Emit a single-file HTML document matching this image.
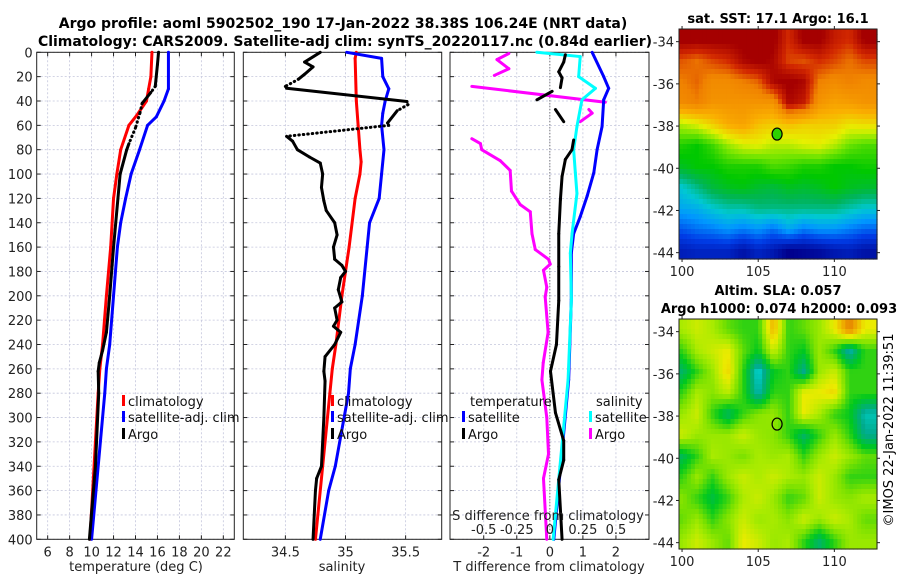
<!DOCTYPE html>
<html><head><meta charset="utf-8"><style>
html,body{margin:0;padding:0;background:#fff;}
svg{display:block;font-family:"DejaVu Sans","Liberation Sans",sans-serif;}
</style></head><body>
<svg id="fig" width="900" height="580" viewBox="0 0 900 580" xmlns="http://www.w3.org/2000/svg">
<rect x="0" y="0" width="900" height="580" fill="#fff"/>
<text x="343" y="28" text-anchor="middle" font-size="14" font-weight="bold">Argo profile: aoml 5902502_190 17-Jan-2022 38.38S 106.24E (NRT data)</text>
<text x="345" y="46" text-anchor="middle" font-size="14" font-weight="bold">Climatology: CARS2009. Satellite-adj clim: synTS_20220117.nc (0.84d earlier)</text>
<text x="778" y="23" text-anchor="middle" font-size="13" font-weight="bold">sat. SST: 17.1 Argo: 16.1</text>
<text x="778" y="295" text-anchor="middle" font-size="13" font-weight="bold">Altim. SLA: 0.057</text>
<text x="779" y="313" text-anchor="middle" font-size="13" font-weight="bold">Argo h1000: 0.074 h2000: 0.093</text>
<text transform="translate(893,430) rotate(-90)" text-anchor="middle" font-size="13">©IMOS 22-Jan-2022 11:39:51</text>
<g id="layer"></g>
</svg>
<script>
// ---------- DATA ----------
const depthTicks = [0,20,40,60,80,100,120,140,160,180,200,220,240,260,280,300,320,340,360,380,400];
const tempTicks = [6,8,10,12,14,16,18,20,22];
const salTicks = [34.5,35,35.5];
const diffTicks = [-2,-1,0,1,2];
const sDiffTickLabels = ["-0.5","-0.25","0","0.25","0.5"];
const sDiffTickValues = [-0.5,-0.25,0,0.25,0.5];

const climTd = [0,20,30,40,52,60,80,100,120,160,200,240,260,280,400];
const climT  = [15.5,15.4,15.2,15.0,14.1,13.4,12.65,12.3,12.0,11.74,11.35,11.0,10.75,10.6,9.85];
const satTd = [0,30,40,53,60,80,100,120,140,160,200,240,260,280,400];
const satT  = [17.0,17.0,16.6,15.9,15.1,14.37,13.6,13.1,12.65,12.35,12.0,11.65,11.35,11.2,10.0];
const argoTd = [0,10,28,33,42,50,62,75,80,100,120,160,200,230,245,255,262,280,340,400];
const argoT  = [16.1,16.0,15.8,15.4,14.6,14.4,14.0,13.4,13.2,12.6,12.4,12.0,11.65,11.35,11.0,10.7,10.6,10.65,10.35,9.8];
const argoTsolid = [1,1,0,1,0,0,0,1,1,1,1,1,1,1,1,1,1,1,1];

const climSd = [0,5,40,80,90,100,120,160,200,240,260,280,400];
const climS  = [35.09,35.08,35.09,35.12,35.13,35.12,35.08,35.03,34.97,34.92,34.89,34.87,34.75];
const satSd = [0,5,20,30,40,50,60,80,100,120,140,160,200,240,260,280,340,360,400];
const satS  = [35.01,35.30,35.31,35.36,35.33,35.31,35.30,35.32,35.30,35.28,35.20,35.18,35.14,35.08,35.04,35.025,34.915,34.86,34.79];
const argoSd = [0,8,12,18,22,28,29.5,40.4,43,48,58,60,69,73,80,86,91,100,111,122,130,140,150,160,170,175,180,185,195,205,210,220,225,230,240,250,262,270,300,340,350,360,400];
const argoS  = [34.79,34.66,34.73,34.66,34.61,34.50,34.51,35.51,35.52,35.43,35.35,35.36,34.51,34.56,34.60,34.70,34.79,34.81,34.80,34.82,34.84,34.91,34.93,34.90,34.91,34.97,35.0,34.96,34.94,34.97,34.91,34.93,34.90,34.96,34.91,34.83,34.82,34.83,34.82,34.80,34.76,34.75,34.73];
const argoSsolid = [1,1,1,1,0,0,1,0,0,1,0,0,1,1,1,1,1,1,1,1,1,1,1,1,1,1,1,1,1,1,1,1,1,1,1,1,1,1,1,1,1,1];

const satTdiffD = [0,20,29.6,39,61,80,99,118,135,149,165,203,269,400];
const satTdiff  = [1.28,1.63,1.78,1.63,1.58,1.43,1.33,1.13,0.92,0.72,0.65,0.65,0.57,0.12];
const satSdiffD = [0,3.5,20,29.6,39,61,80,99,116,149,165,203,269,400];
const satSdiff  = [-0.098,0.23,0.218,0.345,0.243,0.205,0.18,0.193,0.205,0.168,0.155,0.163,0.138,0.025];
const argoTdiffD = [2,8,16,21,29,32,39,47,57,72,80,88,102,121,149,176,204,240,262,296,319,335,351,400];
const argoTdiff  = [0.47,0.42,0.27,0.37,0.32,0.07,-0.39,0.17,0.42,0.72,0.67,0.47,0.37,0.32,0.27,0.27,0.27,0.2,0.02,0.17,0.42,0.42,0.27,0.37];
const argoTdiffShow = [1,1,1,1,0,1,0,1,0,1,1,1,1,1,1,1,1,1,1,1,1,1,1];
const argoSdiffD = [1,6,13.5,19,28,41,47,50,57,71,75,80,89,97,114,125,131,149,162,170,174,179,193,201,230,255,269,300,330,350,400];
const argoSdiff  = [-0.31,-0.4,-0.31,-0.42,-0.59,0.42,0.295,0.32,0.23,-0.59,-0.525,-0.515,-0.375,-0.3,-0.29,-0.225,-0.148,-0.135,-0.11,-0.01,0.003,-0.048,-0.023,-0.035,-0.013,-0.05,-0.06,-0.023,-0.01,-0.048,-0.023];
const argoSdiffShow = [1,1,1,0,1,0,1,1,0,1,1,1,1,1,1,1,1,1,1,1,1,1,1,1,1,1,1,1,1,1];

const mapLon = [100,101,102,103,104,105,106,107,108,109,110,111,112];
const mapLat = [-33.9,-34.9,-35.9,-36.9,-37.9,-38.9,-39.9,-40.9,-41.9,-42.9,-43.9];
const sstGrid = [
[20.5,20.5,20.5,20.5,20.5,20.5,20.5,19.8,20.5,20.5,20.0,19.8,20.5],
[19.5,19.3,19.6,19.8,20.3,20.5,20.3,19.6,19.5,19.8,19.6,19.3,19.6],
[19.2,19.4,19.0,19.0,19.2,19.4,20.3,20.5,20.3,19.2,19.0,19.2,19.0],
[19.0,19.2,18.8,18.8,18.8,18.8,18.8,20.3,20.0,18.8,18.5,18.6,18.8],
[17.0,17.3,17.8,18.3,18.5,18.0,17.8,18.0,17.8,17.8,17.8,17.5,17.6],
[16.0,15.8,16.2,16.8,17.2,17.3,17.0,17.0,17.2,17.3,17.0,16.5,16.3],
[15.6,15.8,15.8,16.0,16.0,16.0,16.3,16.2,16.0,16.0,15.8,15.8,15.9],
[14.6,15.0,15.4,15.6,15.7,15.5,15.4,15.6,15.5,15.6,15.8,15.6,15.5],
[14.2,14.3,14.6,14.8,14.8,15.0,15.0,15.0,15.0,15.0,15.0,14.8,14.6],
[13.5,13.7,13.8,14.0,13.8,14.0,13.7,14.2,13.8,14.0,14.0,13.8,13.6],
[12.8,12.9,12.9,12.9,12.6,12.9,12.7,12.3,12.4,12.5,12.7,12.8,12.6]];
const slaGrid = [
[0.06,0.08,0.06,0.02,0.0,0.0,0.15,0.0,0.02,0.05,0.1,0.2,0.1],
[0.0,0.06,0.08,0.1,0.02,-0.02,0.08,0.0,-0.02,0.05,0.0,-0.1,0.0],
[-0.06,0.0,0.05,0.12,0.0,-0.12,-0.02,0.0,-0.08,0.05,0.08,0.0,0.0],
[0.0,0.06,0.04,0.07,0.0,-0.1,0.0,0.0,0.1,0.1,0.12,0.0,0.0],
[0.05,0.08,0.0,-0.06,0.0,0.04,0.05,0.0,0.1,0.06,0.0,-0.02,-0.1],
[0.08,0.05,0.05,0.05,0.08,0.05,0.04,0.0,-0.06,0.0,0.05,0.0,-0.08],
[-0.05,0.0,0.06,0.05,0.03,0.06,0.05,0.06,0.0,0.05,0.08,0.05,0.02],
[0.0,0.05,0.0,0.05,0.08,0.06,0.08,0.06,0.05,0.08,0.05,0.0,0.0],
[0.04,0.0,-0.04,0.0,0.06,0.08,0.05,0.0,0.02,0.08,0.05,0.04,0.06],
[0.02,0.05,0.0,0.04,0.08,0.05,0.06,0.04,0.08,0.05,0.08,0.06,0.02],
[0.05,0.08,0.05,0.02,0.1,0.08,0.05,0.06,0.0,-0.06,0.0,0.05,0.05]];
const mapLatTicks = [-34,-36,-38,-40,-42,-44];
const mapLonTicks = [100,105,110];
const floatLon = [106.24];
const floatLat = [-38.38];
const floatSST = [16.1];

// ---------- DRAWING ----------
const NS = "http://www.w3.org/2000/svg";
const layer = document.getElementById('layer');
function mk(tag, attrs, parent){
  const e = document.createElementNS(NS, tag);
  for (const k in attrs) e.setAttribute(k, attrs[k]);
  (parent||layer).appendChild(e);
  return e;
}
const Y0 = 52.3, Y1 = 539.3;
function sy(d){ return Y0 + d/400*(Y1-Y0); }
function lin(d0,d1,r0,r1){ return v => r0 + (v-d0)/(d1-d0)*(r1-r0); }
const panels = [
  {name:'temperature-panel', x0:36.7, x1:234.3, sx:lin(5,23,36.7,234.3)},
  {name:'salinity-panel', x0:243.3, x1:441.7, sx:lin(34.15,35.8,243.3,441.7)},
  {name:'difference-panel', x0:450, x1:649, sx:lin(-3.02,3.0,450,649)}
];

function drawAxes(p, xt, xlabels, showY){
  const g = mk('g', {});
  
  
  for (const d of depthTicks){
    const l = mk('line', {x1:p.x0, x2:p.x1, y1:sy(d), y2:sy(d), stroke:'#c4c6dc', 'stroke-width':0.8, 'stroke-dasharray':'2,2'}, g);
    
    
  }
  xt.forEach((v,i)=>{
    const x = p.sx(v);
    const l = mk('line', {x1:x, x2:x, y1:Y0, y2:Y1, stroke:'#c4c6dc', 'stroke-width':0.8, 'stroke-dasharray':'2,2'}, g);
    
    
    mk('line', {x1:x, x2:x, y1:Y1, y2:Y1-4, stroke:'#222'}, g);
    mk('line', {x1:x, x2:x, y1:Y0, y2:Y0+4, stroke:'#222'}, g);
    const t = mk('text', {x:x, y:Y1+17, 'text-anchor':'middle', 'font-size':13, fill:'#222'}, g);
    t.textContent = xlabels[i];
    
    
  });
  for (const d of depthTicks){
    mk('line', {x1:p.x0, x2:p.x0+4, y1:sy(d), y2:sy(d), stroke:'#222'}, g);
    mk('line', {x1:p.x1, x2:p.x1-4, y1:sy(d), y2:sy(d), stroke:'#222'}, g);
    if (showY){
      const t = mk('text', {x:p.x0-4, y:sy(d)+5, 'text-anchor':'end', 'font-size':13, fill:'#222'}, g);
      t.textContent = d;
      
      
    }
  }
  const fr = mk('rect', {x:p.x0, y:Y0, width:p.x1-p.x0, height:Y1-Y0, fill:'none', stroke:'#222', 'stroke-width':1}, g);
  
  
}
drawAxes(panels[0], tempTicks, tempTicks.map(String), true);
drawAxes(panels[1], salTicks, salTicks.map(String), false);
drawAxes(panels[2], diffTicks, diffTicks.map(String), false);

function line(p, ds, vs, color, name, flags, gapStyle, scale){
  const k = scale||1;
  for (let i=0;i<ds.length-1;i++){
    const f = flags ? flags[i] : 1;
    if (!f && gapStyle==='none') continue;
    const a = {x1:p.sx(vs[i]*k), y1:sy(ds[i]), x2:p.sx(vs[i+1]*k), y2:sy(ds[i+1]), stroke:color, 'stroke-width':3, 'stroke-linecap':'round'};
    if (!f){ a['stroke-dasharray']='0.5,4'; }
    const l = mk('line', a);
    
    
  }
}
line(panels[0], climTd, climT, '#ff0000', 'climatology-temperature-line');
line(panels[0], satTd, satT, '#0000ff', 'satellite-temperature-line');
line(panels[0], argoTd, argoT, '#000000', 'argo-temperature-line', argoTsolid, 'dot');
line(panels[1], climSd, climS, '#ff0000', 'climatology-salinity-line');
line(panels[1], satSd, satS, '#0000ff', 'satellite-salinity-line');
line(panels[1], argoSd, argoS, '#000000', 'argo-salinity-line', argoSsolid, 'dot');
const zl = mk('line', {x1:panels[2].sx(0), x2:panels[2].sx(0), y1:Y0, y2:Y1, stroke:'#555', 'stroke-width':1, 'stroke-dasharray':'1,2'});


line(panels[2], argoSdiffD, argoSdiff, '#ff00ff', 'argo-salinity-difference-line', argoSdiffShow, 'none', 4);
line(panels[2], satTdiffD, satTdiff, '#0000ff', 'satellite-temperature-difference-line');
line(panels[2], satSdiffD, satSdiff, '#00ffff', 'satellite-salinity-difference-line', null, null, 4);
line(panels[2], argoTdiffD, argoTdiff, '#000000', 'argo-temperature-difference-line', argoTdiffShow, 'none');

const sdl = mk('text', {x:548, y:520, 'text-anchor':'middle', 'font-size':13, fill:'#222'});
sdl.textContent = 'S difference from climatology';


sDiffTickValues.forEach((v,i)=>{
  const t = mk('text', {x:panels[2].sx(v*4), y:534, 'text-anchor':'middle', 'font-size':13, fill:'#222'});
  t.textContent = sDiffTickLabels[i];
  
  
});
[['temperature (deg C)',136,'x-axis-title-temperature'],['salinity',342,'x-axis-title-salinity'],['T difference from climatology',549,'x-axis-title-t-difference']].forEach(a=>{
  const t = mk('text', {x:a[1], y:571, 'text-anchor':'middle', 'font-size':13, fill:'#222'});
  t.textContent = a[0];
  
  
});
function legend(x, y, color, label, name){
  const g = mk('g', {});
  
  
  mk('rect', {x:x, y:y-6, width:3, height:11, fill:color}, g);
  const t = mk('text', {x:x+6, y:y+5, 'font-size':13, fill:'#111'}, g);
  t.textContent = label;
}
legend(122, 401, '#ff0000', 'climatology', 'legend-entry-climatology');
legend(122, 417, '#0000ff', 'satellite-adj. clim', 'legend-entry-satellite');
legend(122, 434, '#000000', 'Argo', 'legend-entry-argo');
legend(331, 401, '#ff0000', 'climatology', 'legend-entry-climatology-2');
legend(331, 417, '#0000ff', 'satellite-adj. clim', 'legend-entry-satellite-2');
legend(331, 434, '#000000', 'Argo', 'legend-entry-argo-2');
(function(){
  const t1 = mk('text', {x:470, y:406, 'font-size':13, fill:'#111'}); t1.textContent='temperature';
  
  
  const t2 = mk('text', {x:596, y:406, 'font-size':13, fill:'#111'}); t2.textContent='salinity';
  
  
})();
legend(462, 417, '#0000ff', 'satellite', 'legend-entry-t-satellite');
legend(462, 434, '#000000', 'Argo', 'legend-entry-t-argo');
legend(589, 417, '#00ffff', 'satellite', 'legend-entry-s-satellite');
legend(589, 434, '#ff00ff', 'Argo', 'legend-entry-s-argo');

// ---------- MAPS ----------
const sstStops = [[12.3,[0,0,140]],[13.3,[0,60,230]],[14.0,[0,150,255]],[14.6,[0,200,210]],[15.2,[0,180,90]],[15.8,[0,200,0]],[16.6,[120,230,0]],[17.3,[230,240,0]],[18.2,[250,175,0]],[19.2,[240,130,0]],[19.8,[210,40,0]],[20.4,[165,0,0]]];
const slaStops = [[-0.12,[0,220,220]],[-0.08,[0,170,140]],[-0.02,[0,200,30]],[0.03,[120,225,0]],[0.06,[170,235,0]],[0.1,[235,235,0]],[0.15,[240,180,0]],[0.2,[230,130,0]]];
function cmap(stops, v){
  if (v <= stops[0][0]) return 'rgb('+stops[0][1].join(',')+')';
  for (let i=0;i<stops.length-1;i++){
    const a = stops[i], b = stops[i+1];
    if (v <= b[0]){
      const f = (v-a[0])/(b[0]-a[0]);
      return 'rgb('+a[1].map((c,k)=>Math.round(c+(b[1][k]-c)*f)).join(',')+')';
    }
  }
  return 'rgb('+stops[stops.length-1][1].join(',')+')';
}
function interp(grid, lon, lat){
  let c = lon - mapLon[0], r = (mapLat[0] - lat);
  c = Math.max(0, Math.min(mapLon.length-1.0001, c));
  r = Math.max(0, Math.min(mapLat.length-1.0001, r));
  const c0 = Math.floor(c), r0 = Math.floor(r), fc = c-c0, fr = r-r0;
  const a = grid[r0][c0], b = grid[r0][c0+1], cc = grid[r0+1][c0], d = grid[r0+1][c0+1];
  return (a*(1-fc)+b*fc)*(1-fr) + (cc*(1-fc)+d*fc)*fr;
}
function drawMap(top, grid, stops, name, markerVal){
  const X0 = 679, X1 = 877, T = top, B = top+230;
  const lonS = lin(99.8, 112.8, X0, X1), latS = lin(-33.4, -44.3, T, B);
  const g = mk('g', {});
  
  
  const nx = 50, ny = 46;
  const w = (X1-X0)/nx, h = (B-T)/ny;
  for (let j=0;j<ny;j++) for (let i=0;i<nx;i++){
    const x = X0 + i*w, y = T + j*h;
    const lon = 99.8 + (i+0.5)/nx*13, lat = -33.4 - (j+0.5)/ny*10.9;
    const v = interp(grid, lon, lat);
    const rc = mk('rect', {x:x.toFixed(2), y:y.toFixed(2), width:(w+0.6).toFixed(2), height:(h+0.6).toFixed(2), fill:cmap(stops, v)}, g);
    
    
  }
  const fr = mk('rect', {x:X0, y:T, width:X1-X0, height:B-T, fill:'none', stroke:'#222'}, g);
  
  
  for (const la of mapLatTicks){
    const y = latS(la);
    mk('line', {x1:X0-3, x2:X0, y1:y, y2:y, stroke:'#222'}, g);
    mk('line', {x1:X1, x2:X1+3, y1:y, y2:y, stroke:'#222'}, g);
    const t = mk('text', {x:X0-5, y:y+5, 'text-anchor':'end', 'font-size':13, fill:'#222'}, g);
    t.textContent = la;
    
    
  }
  for (const lo of mapLonTicks){
    const x = lonS(lo);
    mk('line', {x1:x, x2:x, y1:B, y2:B+3, stroke:'#222'}, g);
    mk('line', {x1:x, x2:x, y1:T-3, y2:T, stroke:'#222'}, g);
    const t = mk('text', {x:x, y:B+17, 'text-anchor':'middle', 'font-size':13, fill:'#222'}, g);
    t.textContent = lo;
    
    
  }
  const m = mk('ellipse', {cx:lonS(floatLon[0]), cy:latS(floatLat[0]), rx:5, ry:6, fill: markerVal!==null ? cmap(stops, markerVal) : 'none', stroke:'#000', 'stroke-width':1.2}, g);
  
  
}
drawMap(29, sstGrid, sstStops, 'sst-map', floatSST[0]);
drawMap(319, slaGrid, slaStops, 'sla-map', null);
</script>
</body></html>
